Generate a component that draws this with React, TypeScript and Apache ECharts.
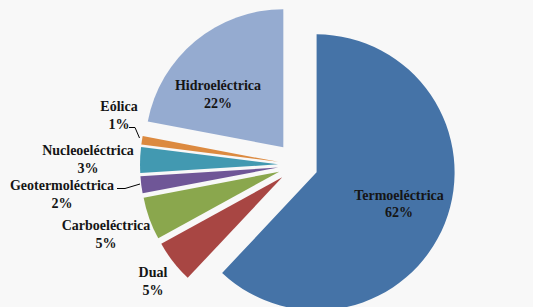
import React, { useEffect, useRef } from 'react';
import * as echarts from 'echarts';

const categories = ['Termoeléctrica', 'Dual', 'Carboeléctrica', 'Geotermoléctrica', 'Nucleoeléctrica', 'Eólica', 'Hidroeléctrica'];
const shares = [62, 5, 5, 2, 3, 1, 22];

const sliceColors = ['#4573a7', '#a84643', '#8aa74d', '#6f5697', '#4299b1', '#dc8a40', '#95abd0'];
const explodeOffsets = [20, 20, 20, 20, 20, 20, 23];
const insideLabels = [0, 6];
const labelCenters: [number, number][] = [
  [399, 204], [153, 281.5], [106, 234.5], [62, 194.5], [88, 159.5], [119, 115.5], [218, 94.5],
];
const leaderLines: [number, number][][] = [
  [[129, 127.5], [135, 127.5], [139.5, 138]],
  [[117, 188.5], [125, 188.5], [140, 184]],
];

const BASE_X = 298;
const BASE_Y = 165;
const RADIUS = 138;
const FONT = 'Liberation Serif';

export default function App() {
  const ref = useRef<HTMLDivElement>(null);
  useEffect(() => {
    if (!ref.current) return;
    const chart = echarts.init(ref.current, null, { renderer: 'svg' });
    const total = shares.reduce((a, b) => a + b, 0);
    let cum = 0;
    const series = shares.map((v, i) => {
      const mid = ((cum + v / 2) / total) * 2 * Math.PI;
      cum += v;
      const cx = BASE_X + explodeOffsets[i] * Math.sin(mid);
      const cy = BASE_Y - explodeOffsets[i] * Math.cos(mid);
      return {
        type: 'pie',
        center: [cx, cy],
        radius: [0, RADIUS],
        startAngle: 90,
        clockwise: true,
        avoidLabelOverlap: false,
        silent: true,
        percentPrecision: 0,
        itemStyle: { borderWidth: 0 },
        label: {
          show: true,
          position: insideLabels.includes(i) ? 'inside' : 'outside',
          formatter: '{b}\n{d}%',
          fontFamily: FONT,
          fontWeight: 'bold',
          fontSize: 14,
          lineHeight: 17.5,
          color: '#151515',
          align: 'center',
        },
        labelLine: { show: false },
        labelLayout: (params: any) => {
          if (params.dataIndex !== i) return {};
          return {
            x: labelCenters[i][0],
            y: labelCenters[i][1],
            align: 'center',
            verticalAlign: 'middle',
          };
        },
        data: categories.map((name, j) =>
          j === i
            ? { name, value: shares[j], itemStyle: { color: sliceColors[j] } }
            : {
                name,
                value: shares[j],
                itemStyle: { color: 'transparent' },
                label: { show: false },
                labelLine: { show: false },
              }
        ),
      };
    });
    chart.setOption({
      animation: false,
      backgroundColor: '#f8f8f8',
      graphic: leaderLines.map((pts) => ({
        type: 'polyline',
        z: 10,
        shape: { points: pts },
        style: { stroke: '#000', lineWidth: 1, fill: 'none' },
        silent: true,
      })),
      series,
    } as any);
    return () => chart.dispose();
  }, []);
  return (
    <div
      ref={ref}
      style={{ position: 'absolute', left: 0, top: 0, width: 533, height: 307 }}
    />
  );
}
